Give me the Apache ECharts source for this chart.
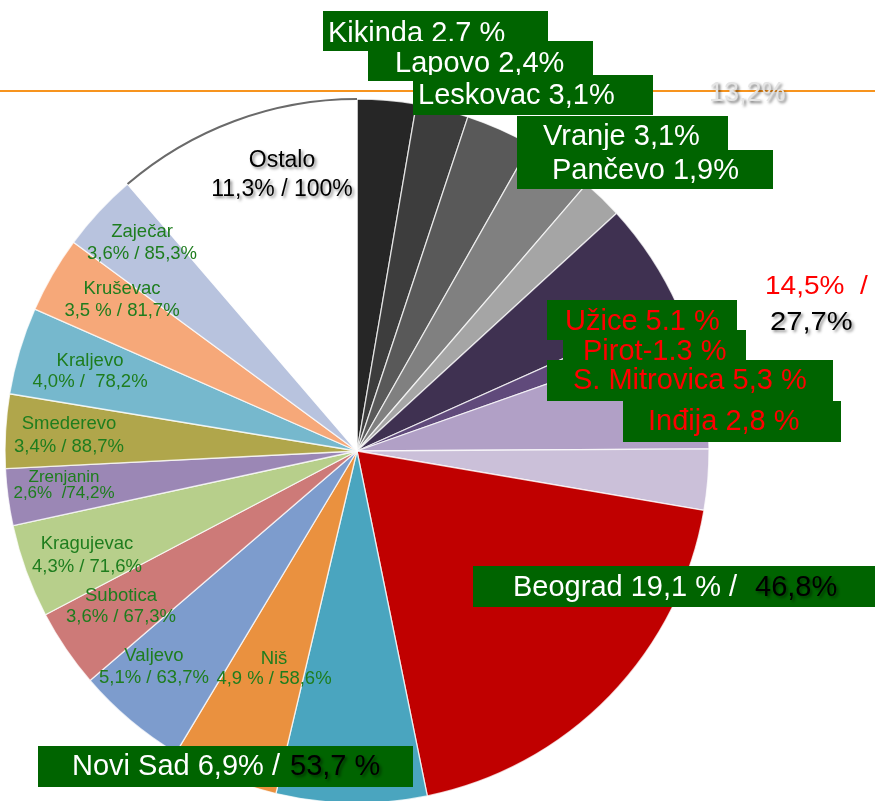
<!DOCTYPE html>
<html>
<head>
<meta charset="utf-8">
<script src="https://cdn.jsdelivr.net/npm/echarts@6/dist/echarts.min.js"></script>
<style>html,body{margin:0;padding:0;background:#fff}#c{width:875px;height:801px}</style>
</head>
<body>
<div id="c"></div>
<script>
// ---- data ----
const names = ['Kikinda','Lapovo','Leskovac','Vranje','Pančevo','Užice','Pirot','S. Mitrovica','Inđija','Beograd','Novi Sad','Niš','Valjevo','Subotica','Kragujevac','Zrenjanin','Smederevo','Kraljevo','Kruševac','Zaječar','Ostalo'];
const values = [2.7, 2.4, 3.1, 3.1, 1.9, 5.1, 1.3, 5.3, 2.8, 19.1, 6.9, 4.9, 5.1, 3.6, 4.3, 2.6, 3.4, 4.0, 3.5, 3.6, 11.3];
const colors = ['#262626','#3d3d3d','#595959','#808080','#a5a5a5','#3f3151','#604a7b','#b1a0c6','#cbc0d9','#c00000','#4aa5bf','#ea913f','#7d9ccd','#cd7a78','#b7cf8b','#9b87b5','#b0a64b','#76b8cd','#f6a879','#b8c3de','#ffffff'];

// box labels (text)
const boxTexts = ['Kikinda 2.7 %','Lapovo 2,4%','Leskovac 3,1%','Vranje 3,1%','Pančevo 1,9%','Užice 5.1 %','Pirot-1.3 %','S. Mitrovica 5,3 %','Inđija 2,8 %','Beograd 19,1 % / ','Novi Sad 6,9% / '];
const cumTexts = {Beograd: '46,8%', NoviSad: '53,7 %'};
const groupTexts = ['13,2%', '14,5%  /', '27,7%'];
// inner slice labels
const innerNames = ['Ostalo','Zaječar','Kruševac','Kraljevo','Smederevo','Zrenjanin','Kragujevac','Subotica','Valjevo','Niš'];
const innerValues = ['11,3% / 100%','3,6% / 85,3%','3,5 % / 81,7%','4,0% /  78,2%','3,4% / 88,7%','2,6%  /74,2%','4,3% / 71,6%','3,6% / 67,3%','5,1% / 63,7%','4,9 % / 58,6%'];

// ---- layout / styles ----
const FF = '"Liberation Sans", Arial, sans-serif';
const GREEN_BOX = '#006400';
const boxLayout = [
  {r:[323,11,225,40], t:[328,34], c:'#fff'},
  {r:[368,41,225,40], t:[395,63.5], c:'#fff'},
  {r:[413,75,240,40], t:[418,96], c:'#fff'},
  {r:[517,116,211,40], t:[543,136.5], c:'#fff'},
  {r:[517,150,256,39], t:[552,171], c:'#fff'},
  {r:[547,300,190,40], t:[565,322], c:'#ff0000'},
  {r:[563,330,183,40], t:[583,352], c:'#ff0000'},
  {r:[547,360,286,41], t:[573,381], c:'#ff0000'},
  {r:[623,401,218,41], t:[648,422], c:'#ff0000'},
  {r:[473,566,402,41], t:[513,587.5], c:'#fff'},
  {r:[38,746,375,41], t:[72,766.5], c:'#fff'}
];
const innerLayout = [
  {x:282, y1:161, y2:190, fs:23, c:'#000', shadow:true},
  {x:142, y1:231.5, y2:254, fs:18.5},
  {x:122, y1:288.5, y2:310.5, fs:18.5},
  {x:90, y1:360.5, y2:381.5, fs:18.5},
  {x:69, y1:423.5, y2:446.5, fs:18.5},
  {x:64, y1:477, y2:493, fs:17},
  {x:87, y1:543.5, y2:566.5, fs:18.5},
  {x:121, y1:595.5, y2:616.5, fs:18.5},
  {x:154, y1:655.5, y2:677.5, fs:18.5},
  {x:274, y1:658.5, y2:678.5, fs:18.5}
];
const INNER_GREEN = '#1e7d1e';

function txt(text, x, y, o) {
  o = o || {};
  const st = {
    text: text, x: 0, y: 0,
    fill: o.fill || '#000',
    font: (o.fs || 28) + 'px ' + FF,
    align: o.align || 'left', textAlign: o.align || 'left',
    verticalAlign: 'middle', textVerticalAlign: 'middle'
  };
  if (o.shadow) {
    st.textShadowColor = o.shadowColor || 'rgba(0,0,0,0.45)';
    st.textShadowBlur = 3; st.textShadowOffsetX = 2; st.textShadowOffsetY = 2;
  }
  return {type:'text', x:x, y:y, z:o.z || 100, scaleX:o.sx || 1, style:st, silent:true};
}

const graphics = [];
// orange line
graphics.push({type:'line', z:0, shape:{x1:0,y1:91,x2:875,y2:91}, style:{stroke:'#f7941e', lineWidth:2}, silent:true});
graphics.push(txt(groupTexts[0], 709, 94, {fs:27, fill:'#e4e4e4', shadow:true, shadowColor:'rgba(0,0,0,0.55)', z:5}));
graphics.push(txt(groupTexts[1], 765, 287, {fs:25, fill:'#ff0000', sx:1.12, z:5}));
graphics.push(txt(groupTexts[2], 770, 323, {fs:26, fill:'#000', sx:1.12, shadow:true, z:5}));

boxLayout.forEach(function(b, i) {
  const z = 100 + i * 2;
  graphics.push({type:'rect', z:z, shape:{x:b.r[0], y:b.r[1], width:b.r[2], height:b.r[3]}, style:{fill:GREEN_BOX}, silent:true});
  graphics.push(txt(boxTexts[i], b.t[0], b.t[1], {fs:29, fill:b.c, z:z + 1}));
});
graphics.push(txt(cumTexts.Beograd, 755, 587.5, {fs:29, fill:'#000', shadow:true, z:130}));
graphics.push(txt(cumTexts.NoviSad, 290, 766.5, {fs:29, fill:'#000', shadow:true, z:130}));

innerNames.forEach(function(n, i) {
  const L = innerLayout[i];
  const c = L.c || INNER_GREEN;
  graphics.push(txt(n, L.x, L.y1, {fs:L.fs, fill:c, align:'center', shadow:L.shadow, z:50}));
  graphics.push(txt(innerValues[i], L.x, L.y2, {fs:L.fs, fill:c, align:'center', shadow:L.shadow, z:50}));
});

const pieData = names.map(function(n, i) {
  return {name:n, value:values[i], itemStyle:{color:colors[i]}};
});
const ringData = names.map(function(n, i) {
  return {name:n, value:values[i], itemStyle:{color: n === 'Ostalo' ? '#6a6a6a' : 'rgba(0,0,0,0)'}};
});

const chart = echarts.init(document.getElementById('c'), null, {renderer:'canvas'});
chart.setOption({
  animation: false,
  backgroundColor: '#ffffff',
  series: [{
    type: 'pie',
    center: [357, 451],
    radius: 352,
    startAngle: 90,
    clockwise: true,
    avoidLabelOverlap: false,
    silent: true,
    label: {show:false},
    labelLine: {show:false},
    itemStyle: {borderColor:'rgba(255,255,255,0.75)', borderWidth:1.3},
    data: pieData,
    z: 2
  }, {
    type: 'pie',
    center: [357, 451],
    radius: [351, 353],
    startAngle: 90,
    clockwise: true,
    silent: true,
    label: {show:false},
    labelLine: {show:false},
    data: ringData,
    z: 3
  }],
  graphic: {elements: graphics}
});
</script>
</body>
</html>
